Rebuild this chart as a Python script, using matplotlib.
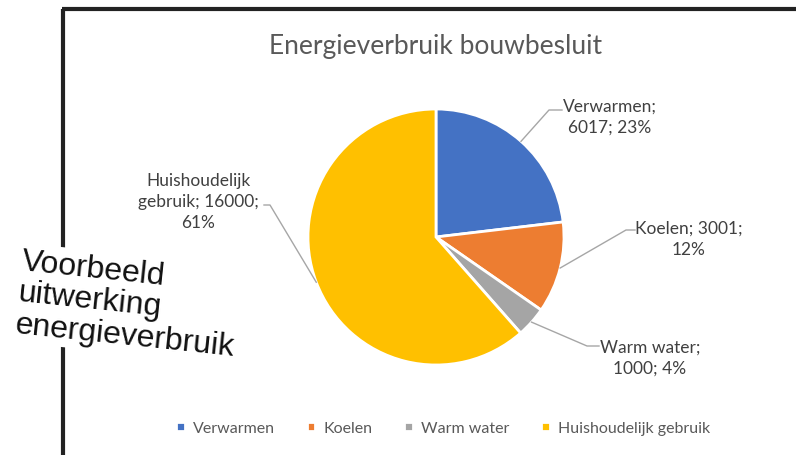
import numpy as np
import matplotlib.pyplot as plt

categories = ['Verwarmen', 'Koelen', 'Warm water', 'Huishoudelijk gebruik']
values = [6017, 3001, 1000, 16000]
colors = ['#4472C4', '#ED7D31', '#A5A5A5', '#FFC000']
label_texts = ['Verwarmen;\n6017; 23%', 'Koelen; 3001;\n12%',
               'Warm water;\n1000; 4%', 'Huishoudelijk\ngebruik; 16000;\n61%']

W, H = 796, 456
fig = plt.figure(figsize=(W / 100, H / 100), dpi=100)
ax = fig.add_axes([0, 0, 1, 1])

cx, cy, r = 436, H - 238, 128
wedges, _ = ax.pie(values, colors=colors, startangle=90, counterclock=False,
                   center=(cx, cy), radius=r,
                   wedgeprops=dict(edgecolor='white', linewidth=2))
ax.set_xlim(0, W)
ax.set_ylim(0, H)
ax.set_aspect('equal')
ax.axis('off')

# frame of the chart
ax.plot([63, 63], [0, H - 10], color='#222222', lw=3, solid_capstyle='butt')
ax.plot([62, W], [H - 10, H - 10], color='#222222', lw=3, solid_capstyle='butt')

ax.text(cx, H - 46, 'Energieverbruik bouwbesluit', ha='center', va='center',
        fontsize=19, color='#595959', family='Lato')

# data labels with leader lines: elbow, end of horizontal, text pos
label_layout = [
    ((549, H - 111), (562, H - 111), (610, H - 117)),
    ((626, H - 231), (635, H - 231), (689, H - 239)),
    ((587, H - 347), (599, H - 347), (650, H - 358)),
    ((270, H - 206), (264, H - 206), (198, H - 202)),
]
for w, txt, (elbow, end, tpos) in zip(wedges, label_texts, label_layout):
    mid = np.deg2rad((w.theta1 + w.theta2) / 2)
    px, py = cx + r * np.cos(mid), cy + r * np.sin(mid)
    ax.plot([px, elbow[0], end[0]], [py, elbow[1], end[1]],
            color='#A6A6A6', lw=1)
    ax.text(tpos[0], tpos[1], txt, ha='center', va='center', multialignment='center',
            fontsize=12.5, color='#404040', family='Lato', linespacing=1.4)

leg = ax.legend(wedges, categories, loc='center', bbox_to_anchor=(443 / W, 1 - 429 / H),
                ncol=4, frameon=False, handlelength=0.55, handleheight=0.55,
                handletextpad=0.5, columnspacing=2.0,
                prop=dict(family='Lato', size=11.5))
for t in leg.get_texts():
    t.set_color('#595959')

ax.text(128, H - 305, 'Voorbeeld\nuitwerking\nenergieverbruik', rotation=-6,
        rotation_mode='anchor', ha='center', va='center', multialignment='left',
        fontsize=23, color='#111111', family='Liberation Sans', linespacing=1.08,
        bbox=dict(facecolor='white', edgecolor='none', pad=2))

fig.savefig('out.png', dpi=100)
